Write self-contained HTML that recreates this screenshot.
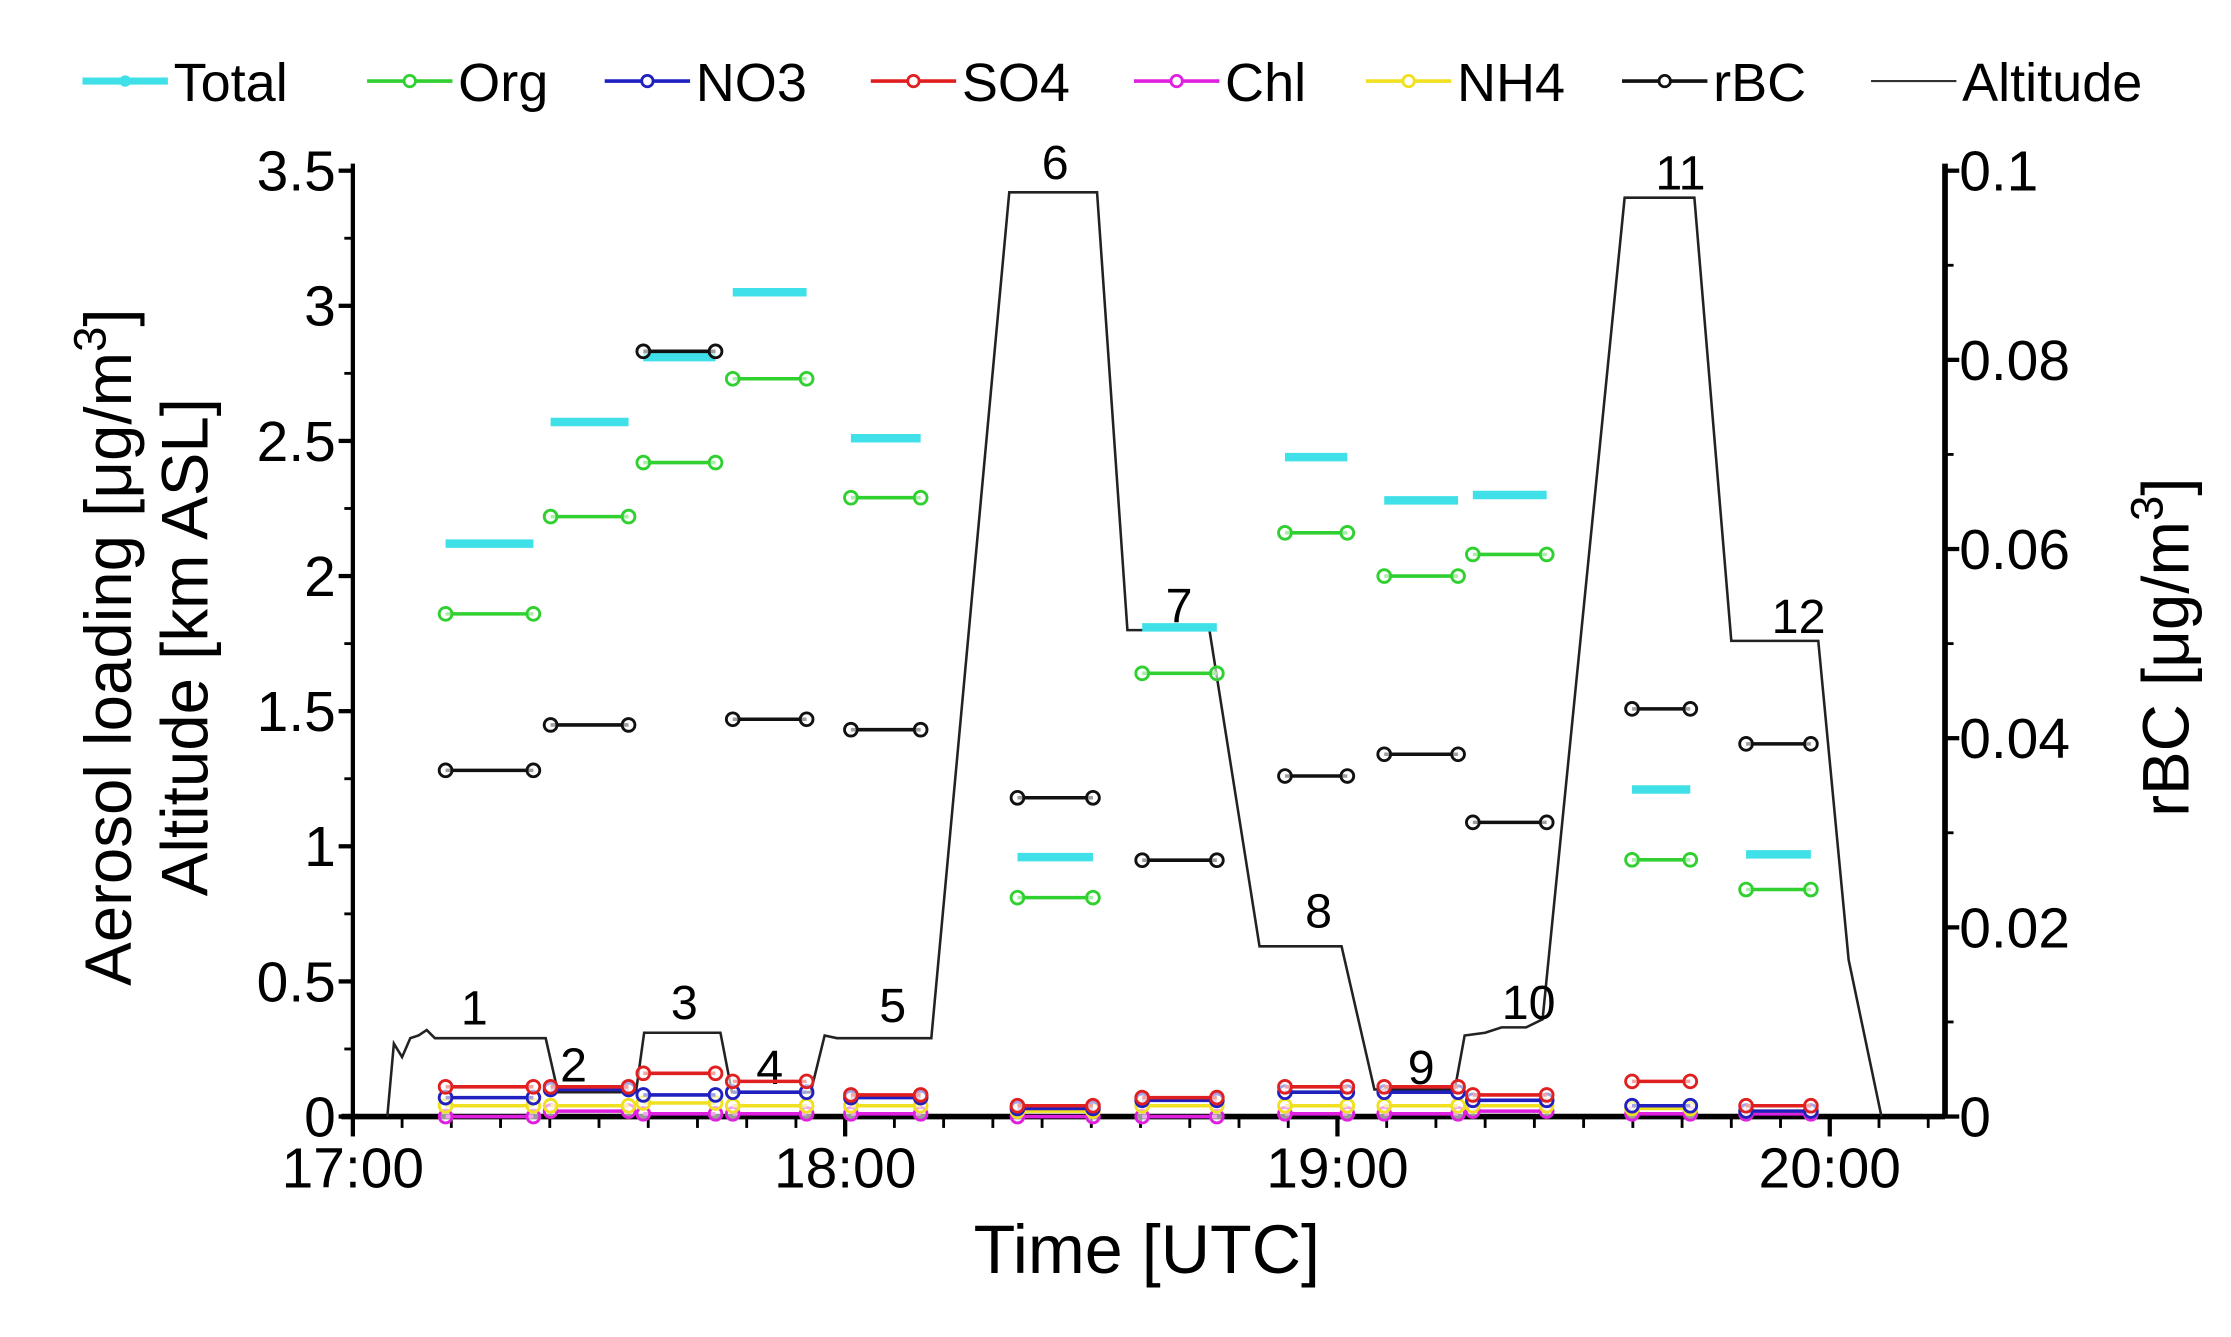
<!DOCTYPE html>
<html><head><meta charset="utf-8"><style>
html,body{margin:0;padding:0;background:#fff}
svg{display:block}
text{font-family:"Liberation Sans",sans-serif;fill:#000}
</style></head><body>
<svg id="chart" width="2231" height="1337" viewBox="0 0 1568 940" preserveAspectRatio="none" xmlns="http://www.w3.org/2000/svg">
<g id="legend"></g>
<g id="axes"></g>
<g id="plot"></g>
<text x="806" y="895" font-size="48" text-anchor="middle">Time [UTC]</text>
<text transform="translate(92,455) rotate(-90)" font-size="46" text-anchor="middle">Aerosol loading [μg/m<tspan dy="-18" font-size="32">3</tspan><tspan dy="18">]</tspan></text>
<text transform="translate(146,455) rotate(-90)" font-size="46" text-anchor="middle">Altitude [km ASL]</text>
<text transform="translate(1538,455) rotate(-90)" font-size="46" text-anchor="middle">rBC [μg/m<tspan dy="-18" font-size="32">3</tspan><tspan dy="18">]</tspan></text>
</svg>
<script>
const segStart=[11.3,24.1,35.4,46.3,60.7,81,96.2,113.6,125.7,136.5,155.9,169.8];
const segEnd=[22.0,33.6,44.2,55.3,69.2,90.2,105.3,121.2,134.7,145.5,163,177.7];
const totalVals=[2.12,2.57,2.81,3.05,2.51,0.96,1.81,2.44,2.28,2.30,1.21,0.97];
const orgVals=[1.86,2.22,2.42,2.73,2.29,0.81,1.64,2.16,2.0,2.08,0.95,0.84];
const no3Vals=[0.07,0.10,0.08,0.09,0.07,0.03,0.06,0.09,0.09,0.06,0.04,0.02];
const so4Vals=[0.11,0.11,0.16,0.13,0.08,0.04,0.07,0.11,0.11,0.08,0.13,0.04];
const chlVals=[0.00,0.02,0.01,0.01,0.01,0.00,0.00,0.01,0.01,0.02,0.01,0.01];
const nh4Vals=[0.04,0.04,0.05,0.04,0.04,0.02,0.04,0.04,0.04,0.04,0.03,0.02];
const rbcVals=[0.0366,0.0414,0.0809,0.042,0.0409,0.0337,0.0271,0.036,0.0383,0.0311,0.0431,0.0394];
const altTime=[4.2,5,6,7,8,9,10,12,23.5,25,34.5,35.5,44.8,46.2,55.8,57.5,59,70.5,80,90.7,94.4,104.4,110.5,120.5,124.5,134.3,135.5,138,140,143,145,155,163.5,168,178.6,182.3,186.3];
const altVals=[0,0.27,0.22,0.29,0.30,0.32,0.29,0.29,0.29,0.09,0.09,0.31,0.31,0.09,0.09,0.30,0.29,0.29,3.42,3.42,1.80,1.80,0.63,0.63,0.10,0.10,0.30,0.31,0.33,0.33,0.36,3.40,3.40,1.76,1.76,0.58,0];
const segLabels=["1","2","3","4","5","6","7","8","9","10","11","12"];
const labelTime=[14.8,26.9,40.4,50.8,65.8,85.6,100.7,117.7,130.2,143.3,161.8,176.2];
const labelVal=[0.34,0.13,0.36,0.12,0.35,3.47,1.83,0.70,0.12,0.36,3.43,1.79];
const yTicks=[0,0.5,1,1.5,2,2.5,3,3.5];
const yTickLabels=["0","0.5","1","1.5","2","2.5","3","3.5"];
const y2Ticks=[0,0.02,0.04,0.06,0.08,0.1];
const y2TickLabels=["0","0.02","0.04","0.06","0.08","0.1"];
const xTicks=[0,60,120,180];
const xTickLabels=["17:00","18:00","19:00","20:00"];

const X0=248,X1=1367,Y0=785,YT=120;
const pxPerMin=346/60;
const xs=m=>X0+m*pxPerMin;
const ys=v=>Y0-(Y0-YT)*v/3.5;
const ys2=v=>Y0-(Y0-YT)*v/0.1;
const NS="http://www.w3.org/2000/svg";
function mk(tag,attrs,parent){const e=document.createElementNS(NS,tag);for(const k in attrs)e.setAttribute(k,attrs[k]);parent.appendChild(e);return e;}
const axes=document.getElementById('axes'),plot=document.getElementById('plot'),legend=document.getElementById('legend');

let e=mk('line',{x1:X0,y1:YT-5,x2:X0,y2:Y0,stroke:'#000','stroke-width':3},axes);

e=mk('line',{x1:X1,y1:YT-5,x2:X1,y2:Y0,stroke:'#000','stroke-width':4},axes);

e=mk('line',{x1:X0-8,y1:Y0,x2:X1,y2:Y0,stroke:'#000','stroke-width':4},axes);

yTicks.forEach((v,i)=>{
  mk('line',{x1:X0-10,y1:ys(v),x2:X0,y2:ys(v),stroke:'#000','stroke-width':3},axes);
  if(i<yTicks.length-1) mk('line',{x1:X0-6,y1:ys(v+0.25),x2:X0,y2:ys(v+0.25),stroke:'#000','stroke-width':2},axes);
  const t=mk('text',{x:X0-12,y:ys(v)+14,'font-size':40,'text-anchor':'end'},axes);t.textContent=yTickLabels[i];
  
});
y2Ticks.forEach((v,i)=>{
  mk('line',{x1:X1,y1:ys2(v),x2:X1+10,y2:ys2(v),stroke:'#000','stroke-width':3},axes);
  if(i<y2Ticks.length-1) mk('line',{x1:X1,y1:ys2(v+0.01),x2:X1+6,y2:ys2(v+0.01),stroke:'#000','stroke-width':2},axes);
  const t=mk('text',{x:X1+10,y:ys2(v)+14,'font-size':40},axes);t.textContent=y2TickLabels[i];
  
});
for(let m=0;m<=195;m+=6){
  if(xs(m)>X1) break;
  const major=m%60===0;
  mk('line',{x1:xs(m),y1:Y0,x2:xs(m),y2:Y0+(major?14:8),stroke:'#000','stroke-width':major?3:2},axes);
}
xTicks.forEach((m,i)=>{
  const t=mk('text',{x:xs(m),y:Y0+50,'font-size':40,'text-anchor':'middle'},axes);t.textContent=xTickLabels[i];
  
});

const pts=altTime.map((t,i)=>xs(t)+','+ys(altVals[i])).join(' ');
e=mk('polyline',{points:pts,fill:'none',stroke:'#222','stroke-width':1.8},plot);

segLabels.forEach((s,i)=>{
  const t=mk('text',{x:xs(labelTime[i]),y:ys(labelVal[i]),'font-size':34,'text-anchor':'middle'},plot);t.textContent=s;
  
});

function series(vals,scale,color,w,name,markers){
  vals.forEach((v,i)=>{
    const y=scale(v),xa=xs(segStart[i]),xb=xs(segEnd[i]);
    const l=mk('line',{x1:xa,y1:y,x2:xb,y2:y,stroke:color,'stroke-width':w},plot);
    
    if(markers){[xa,xb].forEach(x=>{mk('circle',{cx:x,cy:y,r:4.5,fill:'#fff','fill-opacity':0.6,stroke:color,'stroke-width':2},plot);});}
  });
}
series(chlVals,ys,'#e020e0',2.5,'chl',true);
series(nh4Vals,ys,'#f0e020',2.5,'nh4',true);
series(no3Vals,ys,'#2020c0',2.5,'no3',true);
series(so4Vals,ys,'#e02020',2.5,'so4',true);
series(orgVals,ys,'#30d030',2.5,'org',true);
series(totalVals,ys,'#40e0e8',6,'total',false);
series(rbcVals,ys2,'#111',2.5,'rbc',true);

const legNames=["Total","Org","NO3","SO4","Chl","NH4","rBC","Altitude"];
const legColors=['#40e0e8','#30d030','#2020c0','#e02020','#e020e0','#f0e020','#111','#333'];
const legX=[58,258,425,612,797,960,1140,1315];
legNames.forEach((n,i)=>{
  const g=mk('g',{},legend);
  
  const x=legX[i];
  mk('line',{x1:x,y1:57,x2:x+60,y2:57,stroke:legColors[i],'stroke-width':i===0?5:(i===7?1.5:2.5)},g);
  if(i>0&&i<7) mk('circle',{cx:x+30,cy:57,r:4,fill:'#fff',stroke:legColors[i],'stroke-width':2},g);
  if(i===0) mk('circle',{cx:x+30,cy:57,r:4,fill:legColors[i]},g);
  const t=mk('text',{x:x+64,y:71,'font-size':38},g);t.textContent=n;
});
</script>
</body></html>
